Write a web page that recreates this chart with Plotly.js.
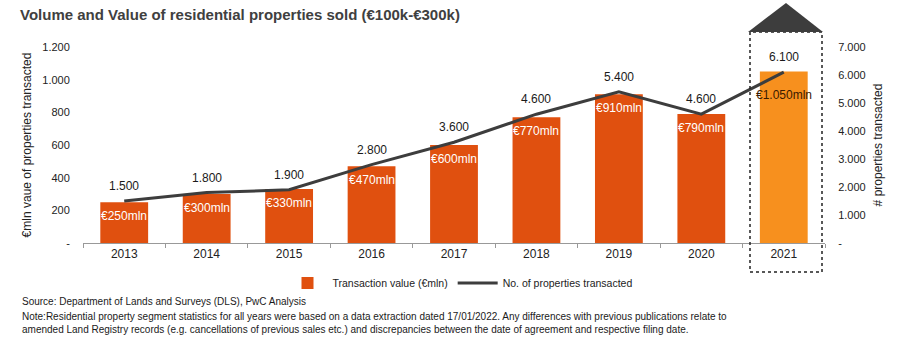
<!DOCTYPE html>
<html><head><meta charset="utf-8">
<script src="https://cdn.plot.ly/plotly-3.0.1.min.js"></script>
<style>html,body{margin:0;padding:0;background:#fff}#chart{width:900px;height:356px}</style>
</head><body><div id="chart"></div>
<script>
const years = ['2013','2014','2015','2016','2017','2018','2019','2020','2021'];
const transactionValue = [250, 300, 330, 470, 600, 770, 910, 790, 1050];
const valueLabels = ['€250mln','€300mln','€330mln','€470mln','€600mln','€770mln','€910mln','€790mln','€1.050mln'];
const propertiesCount = [1500, 1800, 1900, 2800, 3600, 4600, 5400, 4600, 6100];
const countLabels = ['1.500','1.800','1.900','2.800','3.600','4.600','5.400','4.600','6.100'];
const leftTicks = [0, 200, 400, 600, 800, 1000, 1200];
const leftTickText = ['-', '200', '400', '600', '800', '1.000', '1.200'];
const rightTicks = [0, 1000, 2000, 3000, 4000, 5000, 6000, 7000];
const rightTickText = ['-', '1.000', '2.000', '3.000', '4.000', '5.000', '6.000', '7.000'];

const barColors = years.map((y, i) => i === years.length - 1 ? '#F7901E' : '#E0500F');
const narrow = '"Liberation Sans Narrow", "Arial Narrow", "Liberation Sans", Arial, sans-serif';
const base = '"Liberation Sans", Arial, sans-serif';

const traces = [
  {type: 'bar', x: years, y: transactionValue, name: 'Transaction value (€mln)',
   marker: {color: barColors}, width: 0.58, hoverinfo: 'skip'},
  {type: 'scatter', mode: 'lines', x: years, y: propertiesCount, yaxis: 'y2',
   name: 'No. of properties transacted', line: {color: '#3d3d3d', width: 3}, hoverinfo: 'skip'}
];

const annotations = [];
years.forEach((yr, i) => {
  const last = i === years.length - 1;
  annotations.push({x: i, y: transactionValue[i], xref: 'x', yref: 'y', text: valueLabels[i],
    showarrow: false, yanchor: 'top', yshift: last ? -14 : -5,
    font: {family: base, size: 12, color: last ? '#3a1a00' : '#ffffff'}});
  annotations.push({x: i, y: propertiesCount[i], xref: 'x', yref: 'y2', text: countLabels[i],
    showarrow: false, yanchor: 'bottom', yshift: 6,
    font: {family: base, size: 12, color: '#1a1a1a'}});
});
const px = v => (v - 83) / 742;
const py = v => (243 - v) / 196;
annotations.push({xref: 'paper', yref: 'paper', x: px(20), y: py(301), xanchor: 'left', yanchor: 'middle',
  showarrow: false, align: 'left', text: 'Source: Department of Lands and Surveys (DLS), PwC Analysis',
  font: {family: narrow, size: 10, color: '#1a1a1a'}});
annotations.push({xref: 'paper', yref: 'paper', x: px(20), y: py(323), xanchor: 'left', yanchor: 'middle',
  showarrow: false, align: 'left',
  text: 'Note:Residential property segment statistics for all years were based on a data extraction dated 17/01/2022. Any differences with previous publications relate to<br>amended Land Registry records (e.g. cancellations of previous sales etc.) and discrepancies between the date of agreement and respective filing date.',
  font: {family: narrow, size: 10, color: '#1a1a1a'}});

const shapes = [
  {type: 'rect', xref: 'paper', yref: 'paper', x0: px(750), x1: px(822), y0: py(272), y1: py(32),
   line: {color: '#222', width: 1.5, dash: 'dot'}, fillcolor: 'rgba(0,0,0,0)', layer: 'above'},
  {type: 'path', xref: 'paper', yref: 'paper',
   path: `M ${px(748)} ${py(32)} L ${px(786)} ${py(3)} L ${px(823)} ${py(32)} Z`,
   fillcolor: '#3d3d3d', line: {width: 0}}
];

const layout = {
  width: 900, height: 356,
  margin: {l: 83, r: 75, t: 47, b: 113},
  paper_bgcolor: '#ffffff', plot_bgcolor: '#ffffff',
  font: {family: base, size: 11, color: '#222'},
  title: {text: '<b>Volume and Value of residential properties sold (€100k-€300k)</b>',
    x: 20/900, xanchor: 'left', y: 1 - 15/356, yanchor: 'middle', xref: 'container', yref: 'container',
    font: {family: base, size: 15, color: '#404040'}},
  showlegend: true,
  legend: {orientation: 'h', x: px(460), xanchor: 'center', y: py(283), yanchor: 'middle',
    font: {family: narrow, size: 10.5, color: '#222'}, traceorder: 'normal', itemwidth: 40},
  bargap: 0.42,
  xaxis: {type: 'category', categoryorder: 'array', categoryarray: years, range: [-0.5, years.length - 0.5],
    autorange: false, showline: true, linecolor: '#999', linewidth: 1,
    ticks: 'outside', tickson: 'boundaries', ticklen: 4, tickcolor: '#999', tickangle: 0,
    showgrid: false, tickfont: {family: base, size: 12, color: '#222'}, fixedrange: true},
  yaxis: {range: [0, 1200], autorange: false, tickvals: leftTicks, ticktext: leftTickText, showgrid: false,
    zeroline: false, showline: false, ticks: 'outside', ticklen: 10, tickcolor: 'rgba(0,0,0,0)',
    tickfont: {family: base, size: 11, color: '#222'},
    title: {text: '€mln vaue of properties transacted', standoff: 8, font: {family: base, size: 12, color: '#222'}}},
  yaxis2: {range: [0, 7000], autorange: false, overlaying: 'y', side: 'right', tickvals: rightTicks, ticktext: rightTickText,
    showgrid: false, zeroline: false, showline: false, ticks: 'outside', ticklen: 10, tickcolor: 'rgba(0,0,0,0)',
    tickfont: {family: base, size: 11, color: '#222'},
    title: {text: '# properties transacted', standoff: 8, font: {family: base, size: 12, color: '#222'}}},
  annotations: annotations,
  shapes: shapes
};
Plotly.newPlot('chart', traces, layout, {staticPlot: true, displayModeBar: false});
</script></body></html>
